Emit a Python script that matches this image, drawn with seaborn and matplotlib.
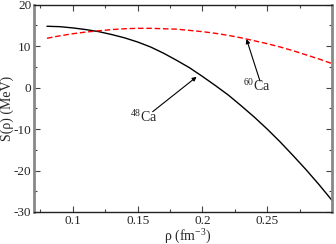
import matplotlib
matplotlib.use("Agg")
import matplotlib.pyplot as plt
import seaborn as sns
import pandas as pd
from matplotlib.ticker import MultipleLocator

# density grid (fm^-3)
rho = [0.08, 0.09, 0.10, 0.11, 0.12, 0.13, 0.14, 0.15, 0.16, 0.17, 0.18, 0.19,
       0.20, 0.21, 0.22, 0.23, 0.24, 0.25, 0.26, 0.27, 0.28, 0.29, 0.30]
# S(rho) in MeV
s_ca48 = [14.8, 14.7, 14.4, 14.0, 13.5, 12.8, 12.0, 11.0, 9.8, 8.3, 6.6, 4.8,
          2.7, 0.5, -1.8, -4.4, -7.1, -10.0, -13.1, -16.4, -19.8, -23.4, -27.2]
s_ca60 = [11.9, 12.5, 13.0, 13.4, 13.7, 14.0, 14.2, 14.3, 14.3, 14.2, 14.1, 13.8,
          13.5, 13.1, 12.6, 12.0, 11.3, 10.6, 9.8, 8.9, 7.9, 6.9, 5.8]

df = pd.DataFrame({"rho": rho, "Ca48": s_ca48, "Ca60": s_ca60})

sns.set_style("ticks")
plt.rcParams["font.family"] = ["Liberation Serif", "DejaVu Serif"]
plt.rcParams["mathtext.fontset"] = "custom"
plt.rcParams["mathtext.rm"] = "Liberation Serif"
plt.rcParams["axes.unicode_minus"] = False

fig = plt.figure(figsize=(3.36, 2.44), dpi=100)
ax = fig.add_axes([34/336, 1 - 212/244, 298/336, (212 - 4.7)/244])

sns.lineplot(data=df, x="rho", y="Ca48", ax=ax, color="black", lw=1.0)
sns.lineplot(data=df, x="rho", y="Ca60", ax=ax, color="red", lw=1.0,
             linestyle=(0, (4, 2)))

ax.set_xlim(0.07, 0.30)
ax.set_ylim(-30, 20)
ax.xaxis.set_major_locator(MultipleLocator(0.05))
ax.xaxis.set_minor_locator(MultipleLocator(0.025))
ax.yaxis.set_major_locator(MultipleLocator(10))
ax.yaxis.set_minor_locator(MultipleLocator(5))
ax.set_xticks([0.1, 0.15, 0.2, 0.25])
ax.set_xticklabels(["0.1", "0.15", "0.2", "0.25"])
ax.tick_params(which="both", direction="in", top=True, right=True,
               labelsize=9.5, pad=2, color="#444444")
ax.tick_params(which="major", length=4, width=0.8)
ax.tick_params(which="minor", length=2, width=0.8)

for side in ["left", "right"]:
    ax.spines[side].set_color("#888888")
    ax.spines[side].set_linewidth(2.0)
for side in ["top", "bottom"]:
    ax.spines[side].set_color("#222222")
    ax.spines[side].set_linewidth(1.0)

ax.set_xlabel(r"ρ (fm$^{-3}$)", fontsize=10)
ax.set_ylabel("S(ρ) (MeV)", fontsize=10)
ax.xaxis.set_label_coords(0.515, -0.068)
ax.yaxis.set_label_coords(-0.066, 0.5)

arrow = dict(arrowstyle="-|>", color="black", lw=0.8, mutation_scale=6,
             shrinkA=0, shrinkB=0)
ax.annotate("", xy=(0.1955, 2.6), xytext=(0.1616, -5.8), arrowprops=arrow)
ax.annotate("", xy=(0.234, 11.7), xytext=(0.2444, 1.6), arrowprops=arrow)
ax.text(0.1545, -7.0, r"$^{48}$Ca", fontsize=10, ha="center", va="center")
ax.text(0.2418, 0.4, r"$^{60}$Ca", fontsize=10, ha="center", va="center")

fig.savefig("out.png", dpi=100)
